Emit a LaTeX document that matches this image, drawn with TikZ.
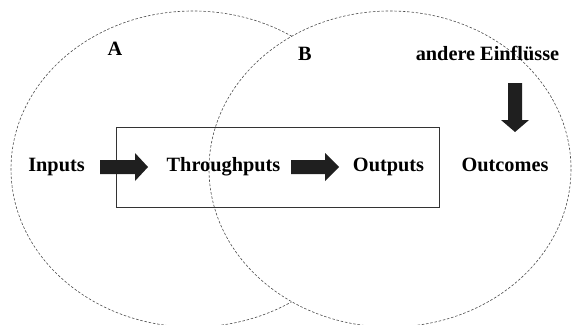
\documentclass[tikz,border=0pt]{standalone}
\usepackage{fontspec}
\setmainfont{Liberation Serif}
\begin{document}
\begin{tikzpicture}[x=1pt,y=-1pt,
  lbl/.style={font=\bfseries\fontsize{20.3}{24}\selectfont, inner sep=0pt, anchor=base},
  circ/.style={draw=black!70, line width=0.6pt, dash pattern=on 2.5pt off 1.8pt},
  frame/.style={draw=black!80, line width=1pt},
  blk/.style={fill=black!88}]
\useasboundingbox (0,0) rectangle (572,324);
\clip (0,0) rectangle (572,324);
% circles A and B
\draw[circ] (193,169) ellipse [x radius=182, y radius=158];
\draw[circ, fill=white] (390,169) ellipse [x radius=181, y radius=158];
% system box
\node[frame, minimum width=323pt, minimum height=80pt, inner sep=0pt] (box) at (277.5,167) {};
% labels
\node[lbl] (A) at (115,55.5) {A};
\node[lbl] (B) at (305,60) {B};
\node[lbl] (other) at (487.5,60) {andere Einflüsse};
\node[lbl] (in) at (56.5,171) {Inputs};
\node[lbl] (thr) at (223.5,171) {Throughputs};
\node[lbl] (out) at (388.5,171) {Outputs};
\node[lbl] (oc) at (505,171) {Outcomes};
% block arrows
\coordinate (a1) at (100,167);
\coordinate (a2) at (291,167);
\coordinate (a3) at (515,83);
\fill[blk] (a1) ++(0,-7) -- ++(35,0) -- ++(0,-7) -- ++(13,14) -- ++(-13,14) -- ++(0,-7) -- ++(-35,0) -- cycle;
\fill[blk] (a2) ++(0,-7) -- ++(34,0) -- ++(0,-7) -- ++(14,14) -- ++(-14,14) -- ++(0,-7) -- ++(-34,0) -- cycle;
\fill[blk] (a3) ++(-7,0) -- ++(0,37) -- ++(-7,0) -- ++(14,12) -- ++(14,-12) -- ++(-7,0) -- ++(0,-37) -- cycle;
\end{tikzpicture}
\end{document}
